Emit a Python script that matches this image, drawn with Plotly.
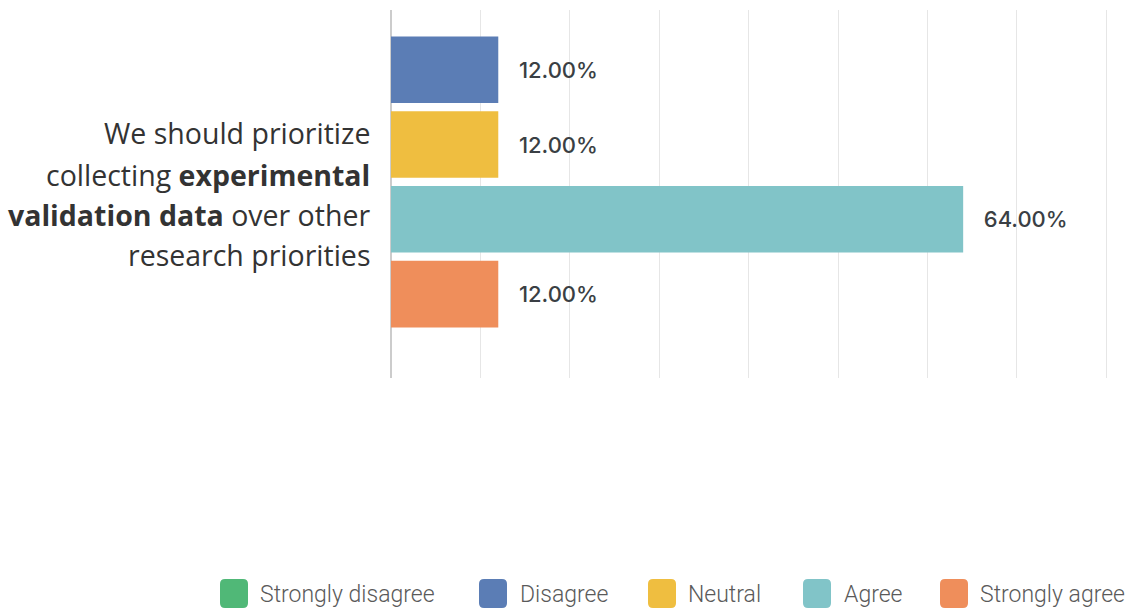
import plotly.graph_objects as go

# Survey responses for one statement
question_lines = [
    "We should prioritize",
    "collecting <b>experimental</b>",
    "<b>validation data</b> over other",
    "research priorities",
]
question = "We should prioritize collecting experimental validation data over other research priorities"
responses = ["Strongly disagree", "Disagree", "Neutral", "Agree", "Strongly agree"]
percentages = [0.0, 12.0, 12.0, 64.0, 12.0]
colors = ["#50b877", "#5b7db5", "#efbe40", "#81c4c8", "#ef8e5b"]

W, H = 1129, 609
M_L, M_R, M_T, M_B = 391, 21, 10, 231
PW, PH = W - M_L - M_R, H - M_T - M_B
X_MAX = 80.2


def px_x(px):
    return (px - M_L) / PW


def px_y(py):
    return (H - M_B - py) / PH


fig = go.Figure()
for name, val, col in zip(responses, percentages, colors):
    label = f"\u00a0\u00a0\u00a0{val:.2f}%" if val > 0 else ""
    fig.add_trace(go.Bar(
        y=[question], x=[val], name=name, orientation="h",
        marker=dict(color=col, line=dict(width=0)),
        text=[label], texttemplate="%{text}",
        textposition="outside", constraintext="none", cliponaxis=True,
        textfont=dict(family="Inter", size=22, color="#3a3f44", weight=500),
        showlegend=False, hoverinfo="skip",
    ))

# question label on the left, right-aligned
line_centers = [133, 175, 215, 255]
annotations = []
for txt, cy in zip(question_lines, line_centers):
    annotations.append(dict(
        text=txt, xref="paper", yref="paper", x=px_x(372), y=px_y(cy),
        xanchor="right", yanchor="middle", showarrow=False,
        font=dict(family="Open Sans", size=28.5, color="#333333"),
    ))

# legend row along the bottom
swatch_left = [220, 479, 648, 803, 940]
text_left = [258, 518, 686, 842, 978]
sw, r = 28, 5
sy0, sy1 = 579, 608
shapes = []


def rounded_rect(x0, y0, x1, y1, rad):
    X = lambda v: px_x(v)
    Y = lambda v: px_y(v)
    return (
        f"M {X(x0 + rad)} {Y(y0)} L {X(x1 - rad)} {Y(y0)} "
        f"Q {X(x1)} {Y(y0)} {X(x1)} {Y(y0 + rad)} "
        f"L {X(x1)} {Y(y1 - rad)} Q {X(x1)} {Y(y1)} {X(x1 - rad)} {Y(y1)} "
        f"L {X(x0 + rad)} {Y(y1)} Q {X(x0)} {Y(y1)} {X(x0)} {Y(y1 - rad)} "
        f"L {X(x0)} {Y(y0 + rad)} Q {X(x0)} {Y(y0)} {X(x0 + rad)} {Y(y0)} Z"
    )


for name, col, sx, tx in zip(responses, colors, swatch_left, text_left):
    shapes.append(dict(
        type="path", xref="paper", yref="paper",
        path=rounded_rect(sx, sy0, sx + sw, sy1, r),
        fillcolor=col, line=dict(width=0), layer="above",
    ))
    annotations.append(dict(
        text=name, xref="paper", yref="paper", x=px_x(tx), y=px_y(594),
        xanchor="left", yanchor="middle", showarrow=False,
        font=dict(family="Roboto", size=23, color="#5a5a5a", weight=300),
    ))

# vertical placement of the grouped bars
pitch = 74.8
group_center = 144.5
bargap = 0.2
unit = len(responses) * pitch / (1 - bargap)
y_top = (M_T - group_center) / unit
y_bot = (H - M_B - group_center) / unit

fig.update_layout(
    width=W, height=H,
    margin=dict(l=M_L, r=M_R, t=M_T, b=M_B, pad=0),
    paper_bgcolor="white", plot_bgcolor="white",
    barmode="group", bargap=bargap, bargroupgap=0.11,
    xaxis=dict(range=[0, X_MAX], dtick=10, showgrid=True, gridcolor="#e6e6e6",
               gridwidth=1, showticklabels=False, ticks="",
               zeroline=True, zerolinecolor="#cccccc", zerolinewidth=1.5,
               showline=False, fixedrange=True),
    yaxis=dict(range=[y_bot, y_top], showticklabels=False, ticks="",
               showgrid=False, zeroline=False, showline=False, fixedrange=True),
    annotations=annotations, shapes=shapes,
    showlegend=False,
)

fig.write_html("out.html")
